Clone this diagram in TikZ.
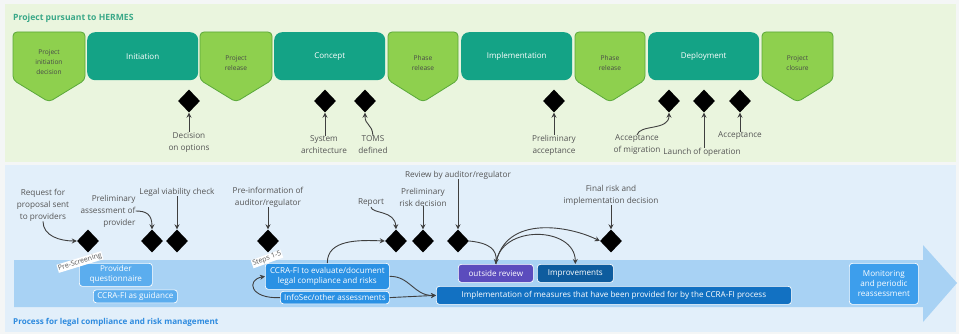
\documentclass[tikz,border=0pt]{standalone}
\usepackage{fontspec}
\setmainfont{Open Sans}
\usetikzlibrary{shapes.geometric,arrows.meta}
\definecolor{pagebg}{HTML}{F4F6F6}
\definecolor{greenpanel}{HTML}{EAF5DE}
\definecolor{bluepanel}{HTML}{E2EFFA}
\definecolor{pentfill}{HTML}{8ED04E}
\definecolor{pentline}{HTML}{5AA83A}
\definecolor{tealbox}{HTML}{14A386}
\definecolor{titlegreen}{HTML}{3AA888}
\definecolor{titleblue}{HTML}{2E8BDF}
\definecolor{labgray}{HTML}{555555}
\definecolor{arrgray}{HTML}{3F3F3F}
\definecolor{bandblue}{HTML}{A8D2F4}
\definecolor{lightbox}{HTML}{5BADEE}
\definecolor{midbox}{HTML}{2A91E4}
\definecolor{monbox}{HTML}{3D9EEC}
\definecolor{purplebox}{HTML}{5B4CBD}
\definecolor{darkbox}{HTML}{0E5C9E}
\definecolor{implbox}{HTML}{1271C2}
\newcommand\mypent[5]{%
  \draw[pentshape] (#1,32) -- (#2,32) -- (#2,80) -- ({(#1+#2)/2},102) -- (#1,80) -- cycle;
  \node[penttxt] (#3) at ({(#1+#2)/2},#4) {#5};}
\begin{document}
\begin{tikzpicture}[x=1pt,y=-1pt,
  pentshape/.style={fill=pentfill,draw=pentline,line width=0.8pt,rounded corners=4pt},
  penttxt/.style={text=labgray!85!black,font=\fontsize{6.6}{10}\selectfont,align=center,inner sep=0},
  phasebox/.style={fill=tealbox,rounded corners=8pt,text=white,font=\fontsize{8}{9.5}\selectfont,
    minimum height=48pt,anchor=north west,inner sep=0},
  lbl/.style={text=labgray,font=\fontsize{8.2}{12}\selectfont,align=center,inner sep=0},
  dia/.style={diamond,fill=black,minimum width=22pt,minimum height=23pt,inner sep=0},
  arr/.style={draw=arrgray,line width=0.9pt,-{Stealth[length=5pt,width=5pt]}},
  bbox/.style={draw=white,line width=0.7pt,rounded corners=3pt,text=white,
    font=\fontsize{8.1}{10}\selectfont,align=center,inner sep=0,anchor=north west},
  tag/.style={fill=white,text=labgray,font=\fontsize{7}{8}\selectfont,inner sep=0.8pt}]
\useasboundingbox (0,0) rectangle (959,334);
\fill[pagebg] (0,0) rectangle (959,334);
\fill[greenpanel] (5,4) rectangle (956,162);
\fill[bluepanel] (5,165) rectangle (956,332);
% titles
\node[anchor=west,text=titlegreen,font=\fontsize{8.6}{10}\selectfont\bfseries,inner sep=0] (t1) at (13,18) {Project pursuant to HERMES};
\node[anchor=west,text=titleblue,font=\fontsize{8.1}{10}\selectfont\bfseries,inner sep=0] (t2) at (13,322) {Process for legal compliance and risk management};
% top row
\mypent{13}{85}{p1}{62}{Project\\initiation\\decision}
\node[phasebox,minimum width=111pt] (ph1) at (87,32) {Initiation};
\mypent{200}{272}{p2}{63}{Project\\release}
\node[phasebox,minimum width=111pt] (ph2) at (274,32) {Concept};
\mypent{388}{458}{p3}{63}{Phase\\release}
\node[phasebox,minimum width=111pt] (ph3) at (461,32) {Implementation};
\mypent{575}{645}{p4}{63}{Phase\\release}
\node[phasebox,minimum width=111pt] (ph4) at (648,32) {Deployment};
\mypent{762}{833}{p5}{63}{Project\\closure}
% top milestones
\node[dia] (d1) at (189,101) {};
\node[dia] (d2) at (325,101) {};
\node[dia] (d3) at (365,101) {};
\node[dia] (d4) at (554,101) {};
\node[dia] (d5) at (669,101) {};
\node[dia] (d6) at (704,101) {};
\node[dia] (d7) at (740,101) {};
\node[lbl] (l1) at (189,142) {Decision\\on options};
\node[lbl] (l2) at (324,145) {System\\architecture};
\node[lbl] (l3) at (373,145) {TOMS\\defined};
\node[lbl] (l4) at (554,145) {Preliminary\\acceptance};
\node[lbl] (l5) at (637,145) {Acceptance\\of migration};
\node[lbl] (l6) at (702,152) {Launch of operation};
\node[lbl] (l7) at (740,136) {Acceptance};
\draw[arr] (l1.north) -- (d1.south);
\draw[arr] (d2.south |- l2.north) -- (d2.south);
\draw[arr] (l3.north) .. controls (372,123) and (365,126) .. (d3.south);
\draw[arr] (l4.north) -- (d4.south);
\draw[arr] (l5.north) .. controls (640,124) and (669,131) .. (d5.south);
\draw[arr] (d6.south |- l6.north) -- (d6.south);
\draw[arr] (d7.south |- l7.north) -- (d7.south);
% band arrow
\fill[bandblue] (14,260) -- (923,260) -- (923,245) -- (957,283) -- (923,322) -- (923,307) -- (14,307) -- cycle;
% band boxes
\node[bbox,fill=lightbox,minimum width=73pt,minimum height=23pt] (pq) at (79,263) {Provider\\questionnaire};
\node[bbox,fill=lightbox,minimum width=84pt,minimum height=13pt] (cg) at (93,289.5) {CCRA-FI as guidance};
\node[bbox,fill=midbox,minimum width=124pt,minimum height=26pt] (cc) at (265,263) {CCRA-FI to evaluate/document\\legal compliance and risks};
\node[bbox,fill=midbox,minimum width=109pt,minimum height=12.5pt] (is) at (280,291) {InfoSec/other assessments};
\node[bbox,fill=purplebox,minimum width=75pt,minimum height=18pt] (orv) at (458,264) {outside review};
\node[bbox,fill=darkbox,minimum width=76pt,minimum height=18pt] (imp) at (537,264) {Improvements};
\node[bbox,fill=implbox,minimum width=355pt,minimum height=18pt] (im) at (436,286) {Implementation of measures that have been provided for by the CCRA-FI process};
\node[bbox,fill=monbox,minimum width=69pt,minimum height=41pt] (mon) at (849,263) {Monitoring\\and periodic\\reassessment};
\node[tag,rotate=17] (ps) at (80,262) {Pre-Screening};
\node[tag,rotate=20] (st) at (267,259) {Steps 1-5};
% bottom milestones
\node[dia] (b1) at (88,241) {};
\node[dia] (b2) at (152,241) {};
\node[dia] (b3) at (177,241) {};
\node[dia] (b4) at (268,241) {};
\node[dia] (b5) at (396,241) {};
\node[dia] (b6) at (423,241) {};
\node[dia] (b7) at (458,241) {};
\node[dia] (b8) at (611,241) {};
\node[lbl] (m1) at (43,205) {Request for\\proposal sent\\to providers};
\node[lbl,align=right] (m2) at (108,211) {Preliminary\\assessment of\\provider};
\node[lbl] (m3) at (177,192) {Legal viability check};
\node[lbl] (m4) at (268,197) {Pre-information of\\auditor/regulator};
\node[lbl] (m5) at (371,203) {Report};
\node[lbl] (m6) at (423,197) {Preliminary\\risk decision};
\node[lbl] (m7) at (458,175) {Review by auditor/regulator};
\node[lbl] (m8) at (611,195) {Final risk and\\implementation decision};
\draw[arr] (m1.south) .. controls (43,236) and (60,241) .. (b1.west);
\draw[arr] (m2.east) .. controls (146,211) and (152,214) .. (b2.north);
\draw[arr] (m3.south -| b3.north) -- (b3.north);
\draw[arr] (m4.south) -- (b4.north);
\draw[arr] (m5.south) .. controls (372,214) and (395,210) .. (b5.north);
\draw[arr] (m6.south) -- (b6.north);
\draw[arr] (m7.south) -- (b7.north);
\draw[arr] (m8.south) -- (b8.north);
% band connectors
\draw[arr] (cc.north) .. controls (327,239) and (360,240) .. (b5.west);
\draw[arr] (is.west) .. controls (250,299) and (246,280) .. (cc.west);
\draw[arr] (cc.east) .. controls (410,276) and (414,296) .. (im.west);
\draw[arr] (is.east) -- (im.west);
\draw[arr] (b7.east) .. controls (490,243) and (497,250) .. (orv.north);
\draw[arr] (orv.north) .. controls (500,224) and (575,226) .. (imp.north);
\draw[arr] (orv.north) .. controls (505,214) and (570,226) .. (b8.west);
\end{tikzpicture}
\end{document}
